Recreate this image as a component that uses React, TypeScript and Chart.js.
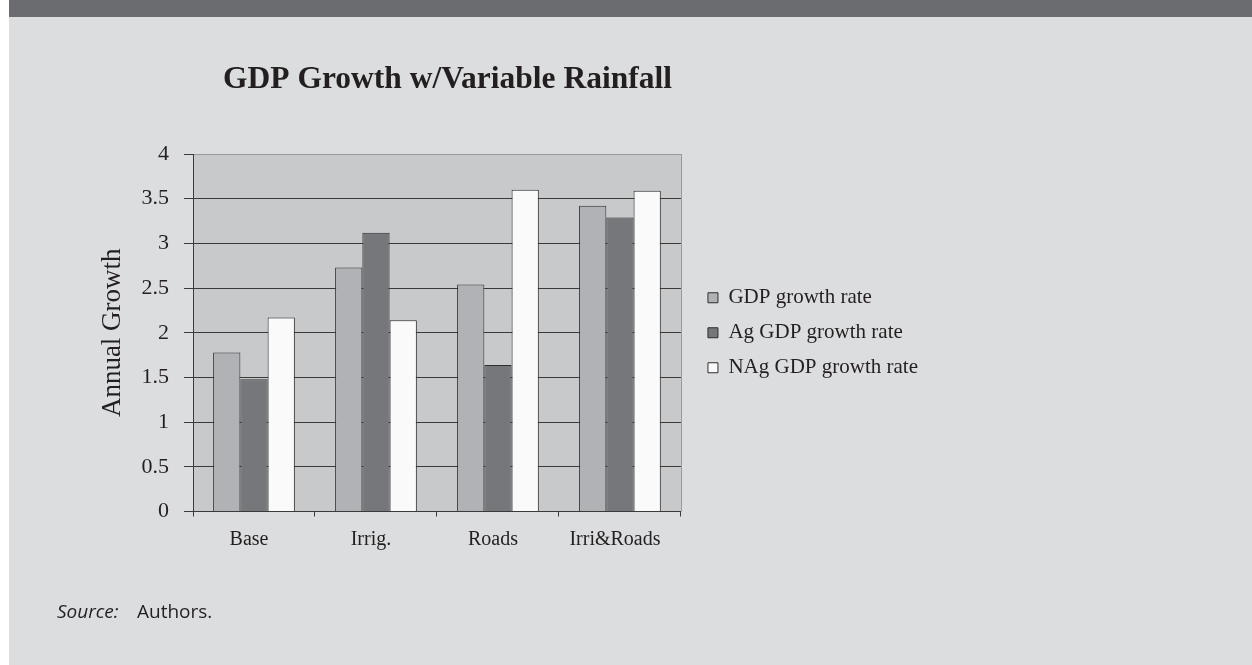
import React, { useEffect, useRef } from "react";
import { Chart, registerables } from "chart.js";

Chart.register(...registerables);

const categories = ["Base", "Irrig.", "Roads", "Irri&Roads"];
const seriesNames = ["GDP growth rate", "Ag GDP growth rate", "NAg GDP growth rate"];
const gdpGrowth = [1.78, 2.73, 2.54, 3.42];
const agGrowth = [1.48, 3.12, 1.64, 3.29];
const nagGrowth = [2.17, 2.14, 3.6, 3.59];
const yTickStep = 0.5;
const yMax = 4;

const TEXT = "#231f20";
const GRID = "#3a3a3a";

const plotBg = {
  id: "plotBg",
  beforeDraw(chart: any) {
    const { ctx, chartArea: a } = chart;
    ctx.save();
    ctx.fillStyle = "#c8c9cb";
    ctx.fillRect(a.left, a.top, a.right - a.left, a.bottom - a.top);
    ctx.strokeStyle = "#9a9a9a";
    ctx.lineWidth = 1;
    ctx.beginPath();
    ctx.moveTo(Math.round(a.right) + 0.5, a.top);
    ctx.lineTo(Math.round(a.right) + 0.5, a.bottom);
    ctx.stroke();
    ctx.restore();
  },
};

export default function App() {
  const ref = useRef<HTMLCanvasElement | null>(null);

  useEffect(() => {
    document.body.style.margin = "0";
    if (!ref.current) return;
    Chart.defaults.font.family = "'Liberation Serif', serif";
    Chart.defaults.color = TEXT;
    const chart = new Chart(ref.current, {
      type: "bar",
      data: {
        labels: categories,
        datasets: [
          { label: seriesNames[0], data: gdpGrowth, backgroundColor: "#b1b2b5", borderColor: "#2e2e2e", borderWidth: 1 },
          { label: seriesNames[1], data: agGrowth, backgroundColor: "#76777b", borderColor: "#2e2e2e", borderWidth: 1 },
          { label: seriesNames[2], data: nagGrowth, backgroundColor: "#fafafa", borderColor: "#2e2e2e", borderWidth: 1 },
        ],
      },
      options: {
        animation: false,
        responsive: true,
        maintainAspectRatio: false,
        datasets: { bar: { categoryPercentage: 0.67, barPercentage: 1 } },
        layout: { padding: { top: 61, left: -33, right: 72, bottom: 37.5 } },
        plugins: {
          title: {
            display: true,
            text: "GDP Growth w/Variable Rainfall",
            fullSize: true,
            color: TEXT,
            font: { size: 31.5, weight: "bold" },
            padding: { top: 0, bottom: 55.2 },
          },
          legend: {
            position: "right",
            fullSize: false,
            maxWidth: 320,
            labels: { boxWidth: 10, boxHeight: 10, padding: 14, color: TEXT, font: { size: 21 } },
          },
          tooltip: { enabled: false },
        },
        scales: {
          x: {
            grid: { display: true, drawOnChartArea: false, drawTicks: true, tickLength: 5, color: GRID },
            border: { display: true, color: GRID },
            ticks: { color: TEXT, font: { size: 20 }, padding: 11, labelOffset: -5 },
          },
          y: {
            min: 0,
            max: yMax,
            ticks: {
              stepSize: yTickStep,
              color: TEXT,
              font: { size: 22 },
              padding: 15,
              callback: (v: any) => String(Number(v)),
            },
            grid: {
              color: (c: any) => (c.tick && c.tick.value === yMax ? "#9a9a9a" : GRID),
              tickColor: GRID,
              tickLength: 9,
            },
            border: { display: true, color: GRID },
            title: { display: true, text: "Annual Growth", color: TEXT, font: { size: 27 }, padding: { top: 0, bottom: -2.2 } },
          },
          leftSpacer: {
            type: "linear",
            position: "left",
            weight: 5,
            display: true,
            grid: { display: false },
            border: { display: false },
            ticks: { display: false },
            afterFit: (s: any) => {
              s.width = 129.3;
            },
          },
          rightSpacer: {
            type: "linear",
            position: "right",
            display: true,
            grid: { display: false },
            border: { display: false },
            ticks: { display: false },
            afterFit: (s: any) => {
              s.width = 13;
            },
          },
        },
      } as any,
      plugins: [plotBg],
    });
    return () => chart.destroy();
  }, []);

  const srcStyle: React.CSSProperties = {
    position: "absolute",
    top: 597.5,
    fontFamily: "'Open Sans', sans-serif",
    fontSize: 19,
    color: TEXT,
    whiteSpace: "nowrap",
  };

  return (
    <div style={{ position: "fixed", left: 0, top: 0, width: 1252, height: 665, background: "#ffffff" }}>
      <div style={{ position: "absolute", left: 9, top: 0, right: 0, bottom: 0, background: "#dcdddf" }} />
      <div style={{ position: "absolute", left: 9, top: 0, right: 0, height: 17, background: "#6b6c70" }} />
      <div style={{ position: "absolute", left: 0, top: 0, width: 1000, height: 600 }}>
        <canvas ref={ref} />
      </div>
      <div style={{ ...srcStyle, left: 57, fontStyle: "italic" }}>Source:</div>
      <div style={{ ...srcStyle, left: 137 }}>Authors.</div>
    </div>
  );
}
